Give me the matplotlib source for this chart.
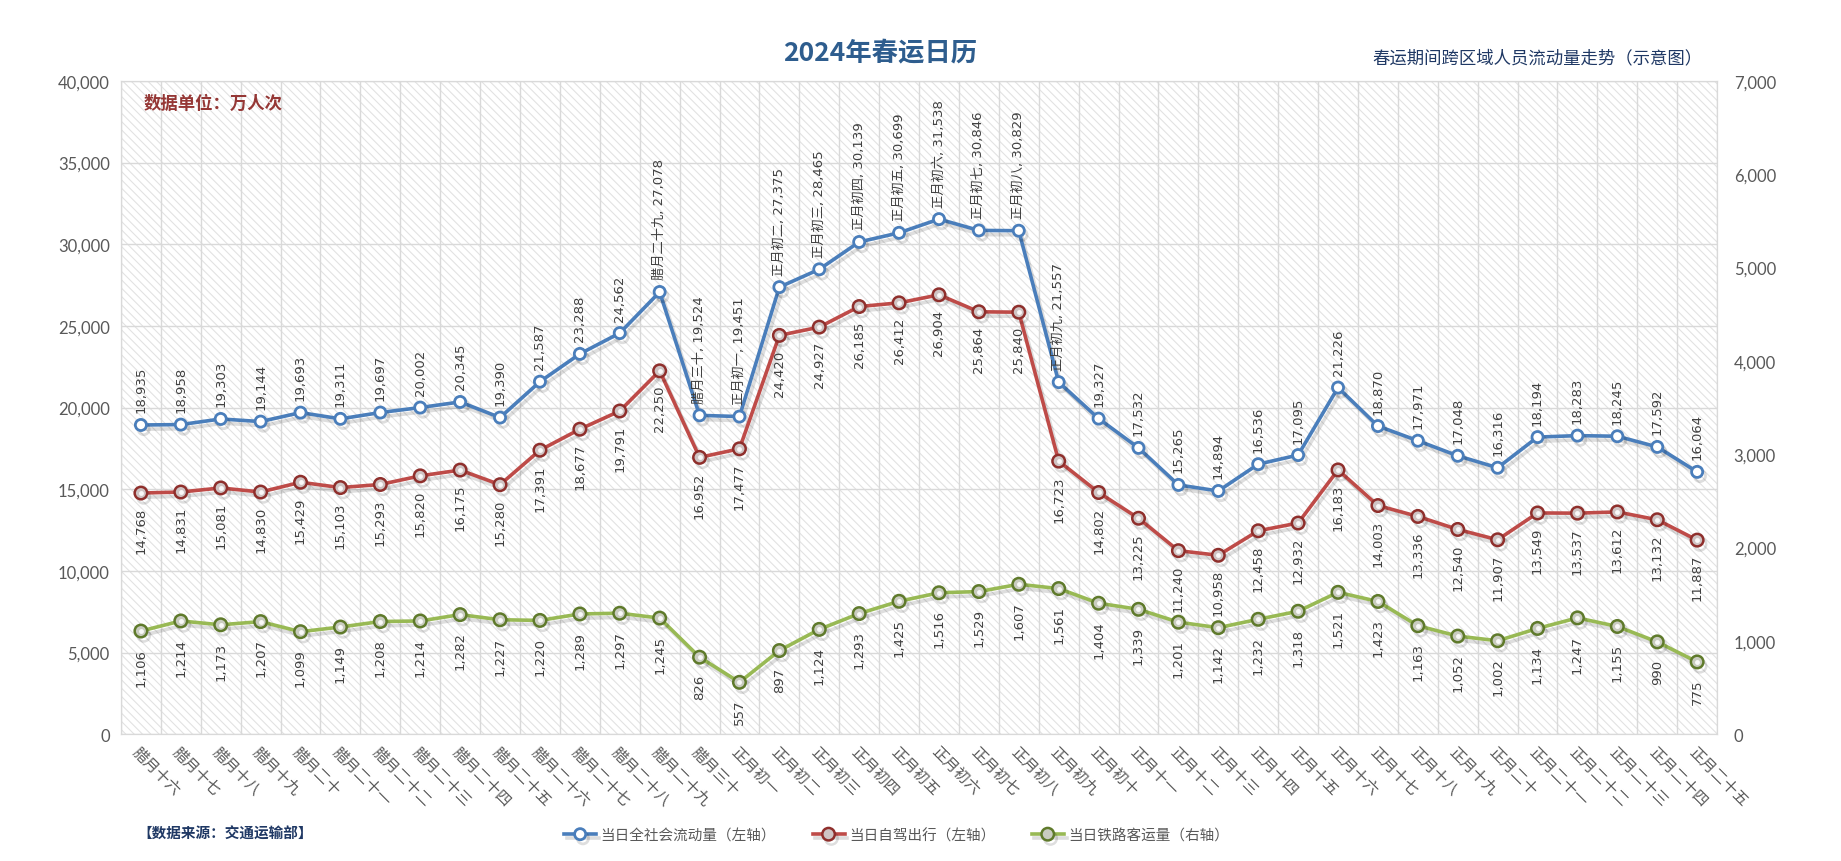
import numpy as np
import matplotlib
matplotlib.use("Agg")
import matplotlib.pyplot as plt
import matplotlib.patheffects as pe
import matplotlib.transforms as mtransforms
from matplotlib.patches import Rectangle

plt.rcParams['font.family'] = ['DejaVu Sans', 'Noto Sans CJK SC']
plt.rcParams['hatch.linewidth'] = 0.8

# lunar calendar days
days = ["腊月十六", "腊月十七", "腊月十八", "腊月十九", "腊月二十", "腊月二十一", "腊月二十二",
        "腊月二十三", "腊月二十四", "腊月二十五", "腊月二十六", "腊月二十七", "腊月二十八",
        "腊月二十九", "腊月三十", "正月初一", "正月初二", "正月初三", "正月初四", "正月初五",
        "正月初六", "正月初七", "正月初八", "正月初九", "正月初十", "正月十一", "正月十二",
        "正月十三", "正月十四", "正月十五", "正月十六", "正月十七", "正月十八", "正月十九",
        "正月二十", "正月二十一", "正月二十二", "正月二十三", "正月二十四", "正月二十五"]

total = [18935, 18958, 19303, 19144, 19693, 19311, 19697, 20002, 20345, 19390,
         21587, 23288, 24562, 27078, 19524, 19451, 27375, 28465, 30139, 30699,
         31538, 30846, 30829, 21557, 19327, 17532, 15265, 14894, 16536, 17095,
         21226, 18870, 17971, 17048, 16316, 18194, 18283, 18245, 17592, 16064]

driving = [14768, 14831, 15081, 14830, 15429, 15103, 15293, 15820, 16175, 15280,
           17391, 18677, 19791, 22250, 16952, 17477, 24420, 24927, 26185, 26412,
           26904, 25864, 25840, 16723, 14802, 13225, 11240, 10958, 12458, 12932,
           16183, 14003, 13336, 12540, 11907, 13549, 13537, 13612, 13132, 11887]

railway = [1106, 1214, 1173, 1207, 1099, 1149, 1208, 1214, 1282, 1227,
           1220, 1289, 1297, 1245, 826, 557, 897, 1124, 1293, 1425,
           1516, 1529, 1607, 1561, 1404, 1339, 1201, 1142, 1232, 1318,
           1521, 1423, 1163, 1052, 1002, 1134, 1247, 1155, 990, 775]

# days whose total label also shows the date
named = ["腊月二十九", "腊月三十", "正月初一", "正月初二", "正月初三", "正月初四",
         "正月初五", "正月初六", "正月初七", "正月初八", "正月初九"]

blue = '#4a7ebb'
red = '#be4b48'
green = '#98b954'
grid_c = '#d9d9d9'
lab_c = '#404040'
tick_c = '#595959'

fig = plt.figure(figsize=(18.41, 8.62), dpi=100)
ax = fig.add_axes([0.0657, 0.147, 0.867, 0.758])
ax2 = ax.twinx()

x = np.arange(len(days))

# hatched background
ax.add_patch(Rectangle((0, 0), 1, 1, transform=ax.transAxes, facecolor='white',
                       edgecolor='#e2e2e2', hatch='\\\\\\\\', lw=0, zorder=0))

shadow = [pe.SimpleLineShadow(offset=(2, -3), shadow_color='k', alpha=0.13), pe.Normal()]

ax.plot(x, total, color=blue, lw=2.6, marker='o', ms=8, mfc='white', mec=blue, mew=2,
        zorder=4, path_effects=shadow, label='当日全社会流动量（左轴）')
ax.plot(x, driving, color=red, lw=2.6, marker='o', ms=9, mfc='#cfc4c4', mec='#8f2f2c', mew=1.8,
        zorder=4, path_effects=shadow, label='当日自驾出行（左轴）')
ax.plot(x, driving, ls='none', marker='o', ms=3.5, mfc='white', mec='none', alpha=0.9, zorder=5)
ax2.plot(x, railway, color=green, lw=2.6, marker='o', ms=9, mfc='#c9ccc0', mec='#5f7a2b', mew=1.8,
         zorder=4, path_effects=shadow, label='当日铁路客运量（右轴）')
ax2.plot(x, railway, ls='none', marker='o', ms=3.5, mfc='white', mec='none', alpha=0.9, zorder=5)

# data labels
for i, v in enumerate(total):
    txt = f"{days[i]}, {v:,}" if days[i] in named else f"{v:,}"
    ax.annotate(txt, (i, v), xytext=(0, 9), textcoords='offset points', rotation=90,
                ha='center', va='bottom', fontsize=9.5, color=lab_c, zorder=6)
for i, v in enumerate(driving):
    ax.annotate(f"{v:,}", (i, v), xytext=(0, -10), textcoords='offset points', rotation=90,
                ha='center', va='top', fontsize=9.5, color=lab_c, zorder=6)
for i, v in enumerate(railway):
    ax2.annotate(f"{v:,}", (i, v), xytext=(0, -12), textcoords='offset points', rotation=90,
                 ha='center', va='top', fontsize=9.5, color=lab_c, zorder=6)

ax.set_xlim(-0.5, len(days) - 0.5)
ax.set_ylim(0, 40000)
ax2.set_ylim(0, 7000)
ax.set_yticks(np.arange(0, 40001, 5000))
ax2.set_yticks(np.arange(0, 7001, 1000))
ax.set_yticklabels([f"{t:,}" for t in range(0, 40001, 5000)], family='Lato', fontsize=12, color=tick_c)
ax2.set_yticklabels([f"{t:,}" for t in range(0, 7001, 1000)], family='Lato', fontsize=12, color=tick_c)

ax.set_xticks(x)
ax.set_xticklabels(days, rotation=-45, ha='left', va='top', rotation_mode='anchor',
                   fontsize=11, color=tick_c, family='Noto Sans CJK SC')
off = mtransforms.ScaledTranslation(-10 / 100, 0, fig.dpi_scale_trans)
for lbl in ax.get_xticklabels():
    lbl.set_transform(lbl.get_transform() + off)

ax.set_xticks(np.arange(-0.5, len(days), 1), minor=True)
ax.grid(True, which='minor', axis='x', color=grid_c, lw=1)
ax.grid(True, which='major', axis='y', color=grid_c, lw=1)
ax.set_axisbelow(True)
ax.tick_params(which='both', length=0)
ax.tick_params(axis='y', pad=8)
ax.tick_params(axis='x', pad=6)
ax2.tick_params(length=0, pad=12)
for a in (ax, ax2):
    for s in a.spines.values():
        s.set_color(grid_c)

fig.text(0.478, 0.938, "2024年春运日历", ha='center', va='center', fontsize=19,
         fontweight='bold', color='#2e5d8e', family='Noto Sans CJK SC')
fig.text(0.925, 0.932, "春运期间跨区域人员流动量走势（示意图）", ha='right', va='center',
         fontsize=12.5, color='#1f3864', family='Noto Sans CJK SC')
fig.text(0.078, 0.880, "数据单位：万人次", ha='left', va='center', fontsize=12.5,
         fontweight='bold', color='#953735', family='Noto Sans CJK SC')
fig.text(0.0745, 0.0325, "【数据来源：交通运输部】", ha='left', va='center', fontsize=10.5,
         fontweight='bold', color='#1f3864', family='Noto Sans CJK SC')

h1, l1 = ax.get_legend_handles_labels()
h2, l2 = ax2.get_legend_handles_labels()
fig.legend(h1 + h2, l1 + l2, loc='center', bbox_to_anchor=(0.487, 0.030), ncol=3,
           frameon=False, handlelength=2.2, columnspacing=2.5, handletextpad=0.3,
           prop={'family': 'Noto Sans CJK SC', 'size': 10.5}, labelcolor=tick_c)

fig.savefig("out.png", dpi=100, facecolor='white')
